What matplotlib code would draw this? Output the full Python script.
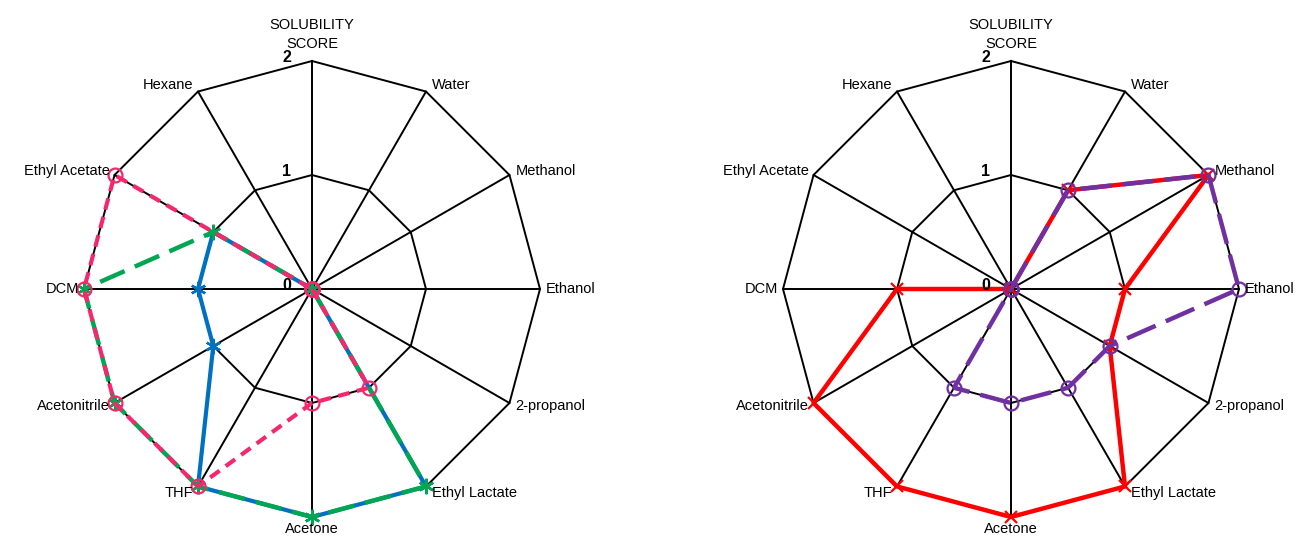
import numpy as np
import matplotlib
matplotlib.use('Agg')
import matplotlib.pyplot as plt

plt.rcParams['font.family'] = ['Liberation Sans', 'DejaVu Sans']

# Categories, clockwise from the top spoke
categories = ['SOLUBILITY\nSCORE', 'Water', 'Methanol', 'Ethanol', '2-propanol', 'Ethyl Lactate',
              'Acetone', 'THF', 'Acetonitrile', 'DCM', 'Ethyl Acetate', 'Hexane']
levels = [0, 1, 2]

# Left chart series
blue_scores = [0, 0, 0, 0, 0, 2, 2, 2, 1, 1, 1, 0]
green_scores = [0, 0, 0, 0, 0, 2, 2, 2, 2, 2, 1, 0]
pink_scores = [0, 0, 0, 0, 0, 1, 1, 2, 2, 2, 2, 0]

# Right chart series
red_scores = [0, 1, 2, 1, 1, 2, 2, 2, 2, 1, 0, 0]
purple_scores = [0, 1, 2, 2, 1, 1, 1, 1, 0, 0, 0, 0]

n = len(categories)
theta = np.arange(n) * 2 * np.pi / n
rmax = max(levels)

W, H = 1304, 541
scale = 114  # pixels per score unit


def to_xy(values):
    v = np.asarray(values, dtype=float)
    v = np.append(v, v[0])
    t = np.append(theta, theta[0])
    return v * np.sin(t), v * np.cos(t)


def make_axes(fig, cx, cy):
    # cx, cy: centre in pixels from top-left
    xl, xr, yb, yt = -2.7, 2.7, -2.2, 2.5
    left = (cx + xl * scale) / W
    width = (xr - xl) * scale / W
    bottom = (H - cy + yb * scale) / H
    height = (yt - yb) * scale / H
    ax = fig.add_axes([left, bottom, width, height])
    ax.set_xlim(xl, xr)
    ax.set_ylim(yb, yt)
    ax.axis('off')
    return ax


def draw_grid(ax):
    for lv in levels[1:]:
        gx, gy = to_xy([lv] * n)
        ax.plot(gx, gy, color='black', lw=1.4, zorder=1)
    for t in theta:
        ax.plot([0, rmax * np.sin(t)], [0, rmax * np.cos(t)], color='black', lw=1.4, zorder=1)
    for lv in levels:
        ax.text(-0.22, lv + 0.03, str(lv), ha='center', va='center',
                fontsize=11.5, fontweight='bold', zorder=6)
    for lab, t in zip(categories, theta):
        s, c = np.sin(t), np.cos(t)
        x, y = rmax * s, rmax * c
        if abs(s) < 0.1:
            ha = 'center'
            dx = 0
        elif s > 0:
            ha = 'left'
            dx = 6
        else:
            ha = 'right'
            dx = -5
        if c > 0.99:
            va, dy = 'bottom', 10
        elif c < -0.99:
            va, dy = 'top', -5
        else:
            va, dy = 'center', 7 * c
        ax.annotate(lab, (x, y), xytext=(dx, dy), textcoords='offset pixels',
                    ha=ha, va=va, fontsize=10.5, linespacing=1.45, zorder=6)


fig = plt.figure(figsize=(W / 100, H / 100), dpi=100)

# Left chart
ax1 = make_axes(fig, 312, 289)
draw_grid(ax1)
bx, by = to_xy(blue_scores)
ax1.plot(bx, by, color='#0070C0', lw=3, marker=(6, 2, 0), ms=11, mew=1.7, zorder=2)
gx, gy = to_xy(green_scores)
ax1.plot(gx, gy, color='#00A651', lw=3.2, dashes=(6, 2.5), marker=(6, 2, 0), ms=11, mew=1.7,
         zorder=3)
px, py = to_xy(pink_scores)
ax1.plot(px, py, color='#F5286E', lw=3, dashes=(2.8, 1.8), marker='o', ms=10,
         mfc='none', mew=1.6, zorder=4)

# Right chart
ax2 = make_axes(fig, 1011, 289)
draw_grid(ax2)
rx, ry = to_xy(red_scores)
ax2.plot(rx, ry, color='#FF0000', lw=3.2, marker='x', ms=9, mew=1.6, zorder=2)
ux, uy = to_xy(purple_scores)
ax2.plot(ux, uy, color='#7030A0', lw=3.2, dashes=(7, 2.5), marker='o', ms=10,
         mfc='none', mew=1.6, zorder=3)

fig.savefig('out.png', dpi=100)
